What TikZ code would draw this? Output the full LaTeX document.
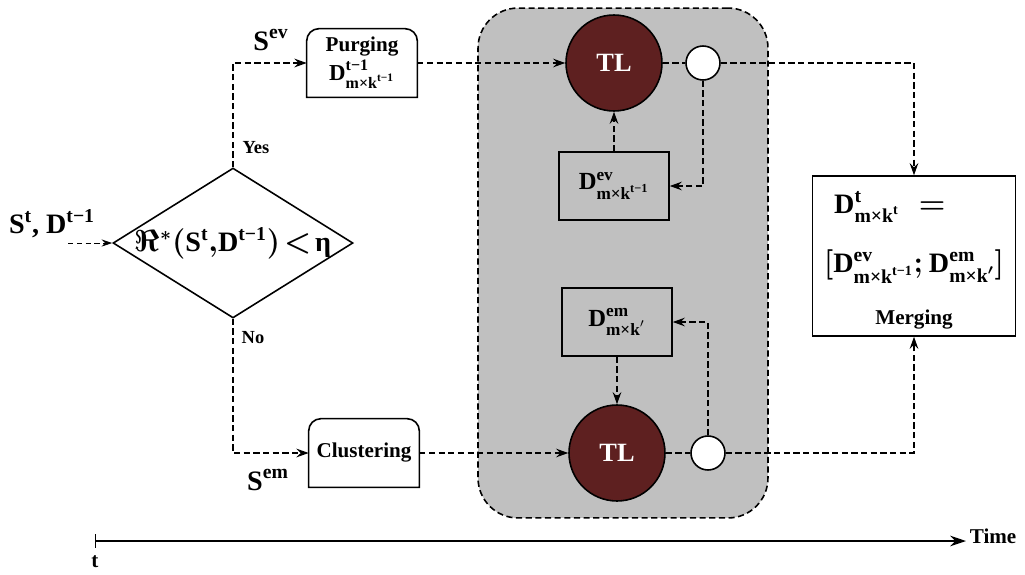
\documentclass[tikz,border=0pt]{standalone}
\usepackage{amsmath,amssymb}
\usepackage{fontspec}
\setmainfont{Liberation Serif}
\usetikzlibrary{shapes.geometric,arrows.meta}
\definecolor{grisPanel}{RGB}{192, 192, 192}
\definecolor{rojoTL}{RGB}{94, 32, 32}
\newcommand{\Dmk}[2]{\text{D}^{\text{#1}}_{\text{m×k}^{#2}}}

\begin{document}
\begin{tikzpicture}[x=0.02cm, y=-0.02cm,
  etapa/.style={rectangle, minimum width=2.2cm, minimum height=1.36cm, align=center,
    inner sep=2pt, font=\fontsize{12}{14}\selectfont\bfseries},
  caja/.style={etapa, draw, line width=0.9pt, font=\fontsize{14}{16}\selectfont\bfseries},
  decision/.style={diamond, draw, line width=0.9pt, aspect=1.6, inner sep=-4pt,
    minimum width=4.8cm, minimum height=3cm, font=\fontsize{16}{18}\selectfont\bfseries\boldmath},
  tl/.style={circle, draw, line width=0.9pt, fill=rojoTL, text=white, minimum size=1.92cm,
    font=\fontsize{15}{17}\selectfont\bfseries},
  union/.style={circle, draw, line width=0.9pt, fill=white, minimum size=0.68cm, inner sep=0pt},
  etiqueta/.style={font=\fontsize{16}{18}\selectfont\bfseries\boldmath},
  rama/.style={font=\fontsize{10.5}{12}\selectfont\bfseries},
  flujo/.style={dash pattern=on 3.5pt off 2pt, line width=0.7pt},
  flecha/.style={flujo, -{Stealth[length=7pt, width=5pt, inset=2.5pt]}},
  panel/.style={draw, dash pattern=on 3.5pt off 2pt, line width=0.9pt, fill=grisPanel,
    rounded corners=0.8cm, minimum width=5.8cm, minimum height=10.2cm}
]
\useasboundingbox (0,0) rectangle (1025,575);
\node[panel] (panel) at (623,263) {};

% entrada y decision
\coordinate (inicio) at (68,243);
\node[etiqueta] (sIn) at (52,224) {$\text{S}^{\text{t}}\text{, D}^{\text{t−1}}$};
\node[decision] (cond) at (233,243) {$\Re^{*}(\text{S}^{\text{t}}{,}\text{D}^{\text{t−1}})\!<\!\text{η}$};
\node[rama] (yes) at (256,148) {Yes};
\node[rama] (no) at (253,338) {No};
\node[etiqueta] (sEv) at (271,40) {$\text{S}^{\text{ev}}$};
\node[etiqueta] (sEm) at (268,480) {$\text{S}^{\text{em}}$};

\node[etapa] (purge) at (362,63) {Purging\\[1pt] {\fontsize{13}{15}\selectfont$\Dmk{t−1}{\text{t−1}}$}};
\node[etapa] (clust) at (364,453) {Clustering};

% rama superior
\node[tl] (tlA) at (614,63) {TL};
\node[union] (joinA) at (703,63) {};
\node[caja] (dev) at (614,186) {$\Dmk{ev}{\text{t−1}}$};

% rama inferior
\node[tl] (tlB) at (617,453) {TL};
\node[union] (joinB) at (708,453) {};
\node[caja] (dem) at (617,322) {$\Dmk{em}{\prime}$};

% union final
\node[caja, minimum width=4.06cm, minimum height=3.2cm] (merge) at (914,256) {};
\node[etiqueta, anchor=west] (mergeEq) at (828,207) {$\Dmk{t}{\text{t}}\;=$};
\node[etiqueta] (mergeSet) at (914,267) {$[\Dmk{ev}{\text{t−1}};\Dmk{em}{\prime}]$};
\node[etapa, minimum height=0pt] (mergeLbl) at (914,320) {Merging};

\foreach \b in {purge,clust}
  \draw[line width=0.9pt, rounded corners=7pt, line cap=rect]
    (\b.south west) |- (\b.north) -| (\b.south east) (\b.south west) -- (\b.south east);

\draw[densely dashed, thin, -{Stealth[length=6pt, width=4pt, inset=2pt]}] (inicio) -- (cond.west);
\draw[flecha] (cond.north) |- (purge.west);
\draw[flecha] (cond.south) |- (clust.west);
\draw[flecha] (purge.east) -- (tlA.west);
\draw[flecha] (clust.east) -- (tlB.west);
\draw[flujo] (tlA) -- (joinA);
\draw[flujo] (tlB) -- (joinB);
\draw[flecha] (joinA.south) |- (dev.east);
\draw[flecha] (dev.north) -- (tlA.south);
\draw[flecha] (joinB.north) |- (dem.east);
\draw[flecha] (dem.south) -- (tlB.north);
\draw[flecha] (joinA.east) -| (merge.north);
\draw[flecha] (joinB.east) -| (merge.south);

% eje de tiempo
\coordinate (t0) at (95,541);
\node[etapa, minimum width=0pt, minimum height=0pt, anchor=west] (time) at (966,536) {Time};
\node[etapa, minimum width=0pt, minimum height=0pt] (tLbl) at (95,562) {t};
\draw[line width=1.1pt, -{Stealth[length=9pt, width=6pt]}] (t0) -- (t0 -| time.west);
\draw[thin] (t0) ++(0,-7) -- ++(0,14);
\end{tikzpicture}
\end{document}
